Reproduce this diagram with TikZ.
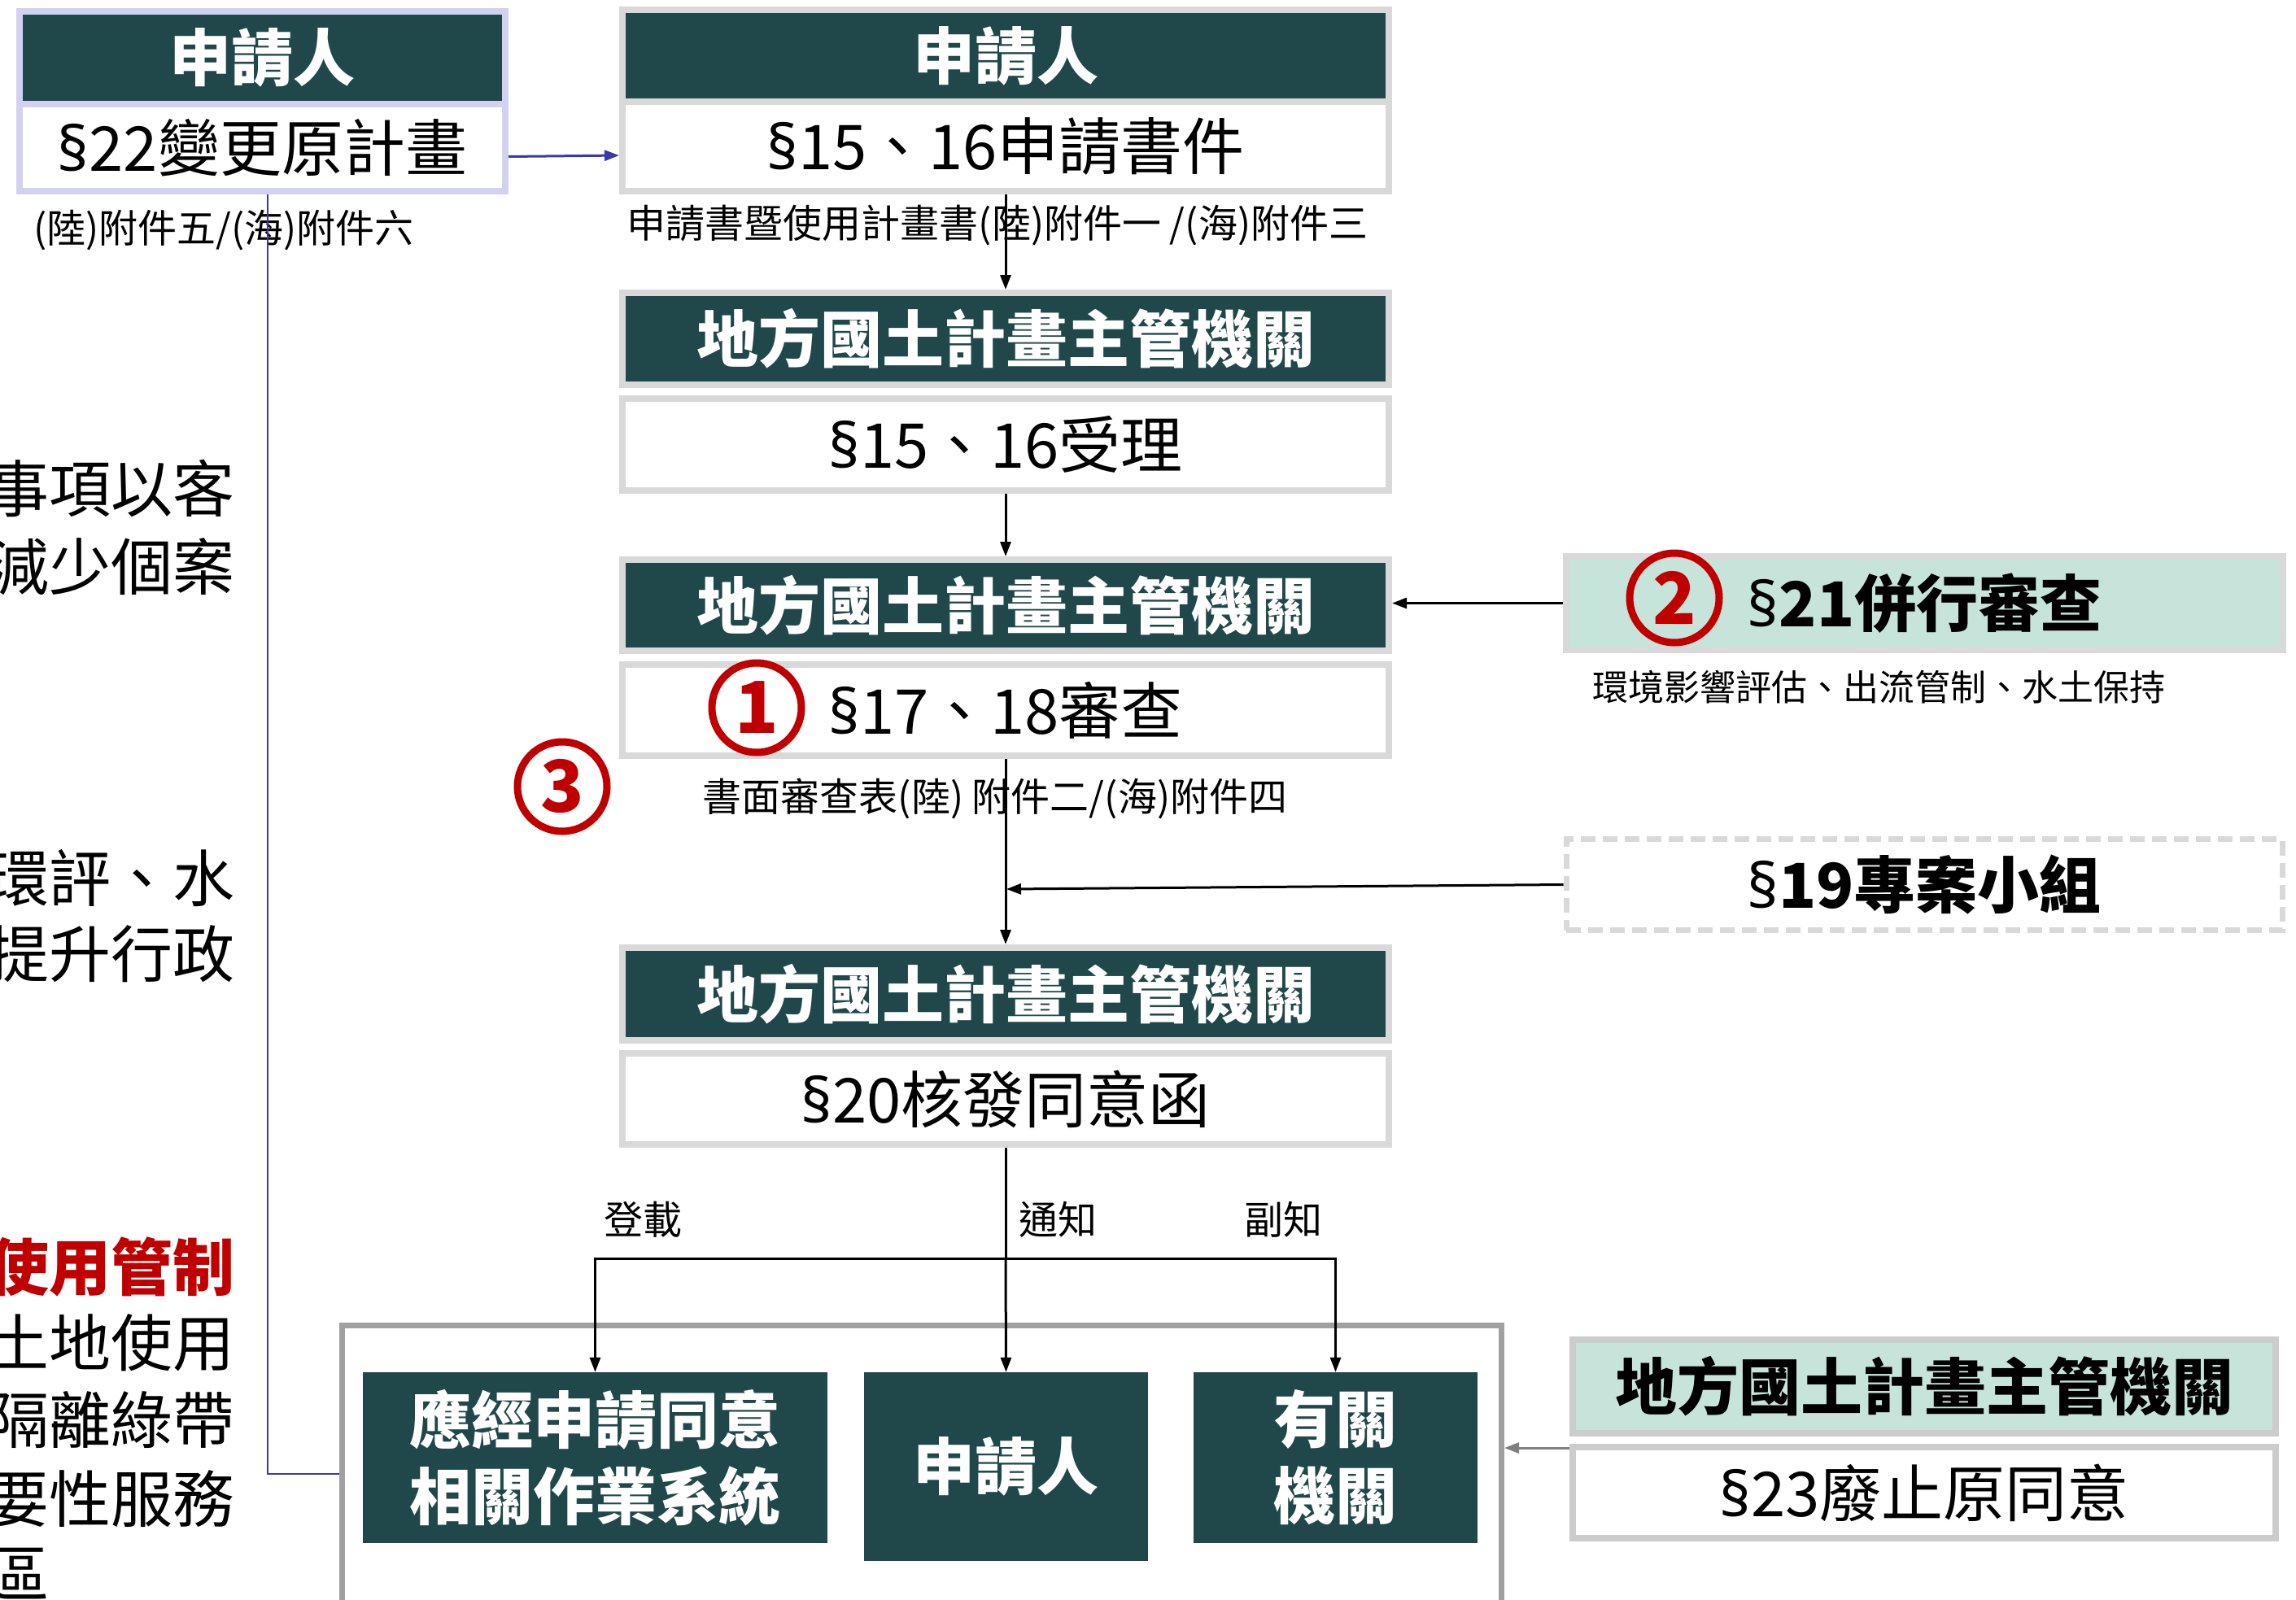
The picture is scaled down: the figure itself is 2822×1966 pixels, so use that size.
\documentclass[tikz,border=0pt]{standalone}
\usepackage{fontspec}
\setmainfont{Noto Sans CJK TC}
\newfontfamily\latf{Noto Sans}
\usetikzlibrary{arrows.meta}
\definecolor{hdrteal}{HTML}{20484A}
\definecolor{boxgray}{HTML}{D9D9D9}
\definecolor{mint}{HTML}{C6E4DA}
\definecolor{lav}{HTML}{D2D2F0}
\definecolor{navyline}{HTML}{3A3AA6}
\definecolor{outgray}{HTML}{A0A0A0}
\definecolor{numred}{HTML}{C00000}
\definecolor{graybd}{HTML}{CCCCCC}
\definecolor{arrowgray}{HTML}{808080}
\newcommand\fB{\fontsize{76}{94}\selectfont}
\newcommand\fS{\fontsize{48}{56}\selectfont}
\newcommand\fL{\fontsize{48}{58}\selectfont}
\newcommand\fN{\fontsize{88}{100}\selectfont\bfseries}
\newcommand\sect{{\latf §}}
\tikzset{
  hdr/.style={draw=boxgray, line width=8pt, fill=hdrteal, text=white, inner sep=0pt, font=\fB\bfseries},
  wbox/.style={draw=boxgray, line width=8pt, fill=white, inner sep=0pt, font=\fB},
  mintbox/.style={draw=boxgray, line width=8pt, fill=mint, inner sep=0pt, font=\fB\bfseries},
  dashbox/.style={draw=boxgray, line width=7pt, dash pattern=on 18pt off 9pt, fill=white, inner sep=0pt, font=\fB\bfseries},
  darkbox/.style={fill=hdrteal, text=white, inner sep=0pt, font=\fB\bfseries, align=center},
  conn/.style={line width=3pt, -{Triangle[length=18pt,width=13pt]}},
  circnum/.style={circle, draw=numred, line width=9pt, minimum size=110pt, inner sep=0pt, text=numred, font=\fN},
  sublbl/.style={font=\fS, inner sep=0pt},
  brlbl/.style={font=\fL, inner sep=0pt},
  lefttxt/.style={font=\fB, inner sep=0pt, anchor=west}
}
\begin{document}
\begin{tikzpicture}[x=1pt, y=-1pt]
\useasboundingbox (0,0) rectangle (2822,1966);
\fill[white] (0,0) rectangle (2822,1966);
\clip (0,0) rectangle (2822,1966);

% left cut-off text
\node[lefttxt] (t1) at (-16,600) {事項以客};
\node[lefttxt] (t2) at (-16,697) {減少個案};
\node[lefttxt] (t3) at (-16,1079) {環評、水};
\node[lefttxt] (t4) at (-16,1173) {提升行政};
\node[lefttxt, text=numred, font=\fB\bfseries] (t5) at (-16,1557) {使用管制};
\node[lefttxt] (t6) at (-16,1651) {土地使用};
\node[lefttxt] (t7) at (-16,1746) {隔離綠帶};
\node[lefttxt] (t8) at (-16,1843) {要性服務};
\node[lefttxt] (t9) at (-16,1935) {區};

% left box
\node[hdr, draw=lav, minimum width=597pt, minimum height=114pt] (lhdr) at (322.5,71) {申請人};
\node[wbox, draw=lav, minimum width=597pt, minimum height=107pt] (lwht) at (322.5,181.5) {\sect22變更原計畫};
\node[sublbl, anchor=west] (s0) at (41,283) {(陸)附件五/(海)附件六};

% middle column
\node[hdr, minimum width=942pt, minimum height=113pt] (h1) at (1236,68.5) {申請人};
\node[wbox, minimum width=942pt, minimum height=110pt] (w1) at (1236,180) {\sect15、16申請書件};
\node[sublbl] (s1) at (1226,277) {申請書暨使用計畫書(陸)附件一 /(海)附件三};

\node[hdr, minimum width=942pt, minimum height=113pt] (h2) at (1236,416.5) {地方國土計畫主管機關};
\node[wbox, minimum width=942pt, minimum height=113pt] (w2) at (1236,546.5) {\sect15、16受理};

\node[hdr, minimum width=942pt, minimum height=112pt] (h3) at (1236,744) {地方國土計畫主管機關};
\node[wbox, minimum width=942pt, minimum height=112pt] (w3) at (1236,873) {\sect17、18審查};
\node[sublbl] (s3) at (1223,982) {書面審查表(陸) 附件二/(海)附件四};

\node[hdr, minimum width=942pt, minimum height=114pt] (h4) at (1236,1222) {地方國土計畫主管機關};
\node[wbox, minimum width=942pt, minimum height=112pt] (w4) at (1236,1351) {\sect20核發同意函};

% right column
\node[mintbox, minimum width=881pt, minimum height=115pt] (r21) at (2365.5,741.5) {{\latf\bfseries §}21併行審查};
\node[sublbl, font=\fontsize{44}{52}\selectfont] (s21) at (2309,845) {環境影響評估、出流管制、水土保持};
\node[dashbox, minimum width=880pt, minimum height=112pt] (r19) at (2365,1087.5) {{\latf\bfseries §}19專案小組};
\node[mintbox, draw=graybd, minimum width=864pt, minimum height=115pt] (r23h) at (2365,1704.5) {地方國土計畫主管機關};
\node[wbox, draw=graybd, minimum width=864pt, minimum height=112pt] (r23w) at (2365,1835) {\sect23廢止原同意};

% circled numbers
\node[circnum] (c1) at (930,870) {1};
\node[circnum] (c2) at (2058,735) {2};
\node[circnum] (c3) at (691,967) {3};

% bottom container and boxes
\node[draw=outgray, line width=7pt, minimum width=1425pt, minimum height=420.5pt, inner sep=0pt] (outer) at (1133,1839.75) {};
\node[darkbox, minimum width=571pt, minimum height=210pt] (A) at (731.5,1792) {應經申請同意\\相關作業系統};
\node[darkbox, minimum width=349pt, minimum height=232pt] (B) at (1236.5,1803) {申請人};
\node[darkbox, minimum width=349pt, minimum height=210pt] (C) at (1641.5,1792) {有關\\機關};

\node[brlbl] (l1) at (790,1499) {登載};
\node[brlbl] (l2) at (1300,1499) {通知};
\node[brlbl] (l3) at (1577,1499) {副知};

% connectors
\draw[conn, draw=navyline] ([yshift=-11pt]lwht.east) -- ([yshift=-11pt]w1.west);
\coordinate (bt) at (329,1812);
\draw[draw=navyline, line width=2.5pt] (lwht.south -| bt) -- (bt) -- (outer.west |- bt);

\draw[conn] (w1.south) -- (h2.north);
\draw[conn] (w2.south) -- (h3.north);
\draw[conn] (w3.south) -- (h4.north);
\draw[conn] (r21.west) -- (h3.east |- r21.west);
\coordinate (j19) at (1237,1093);
\draw[conn] (r19.west) -- (j19);

\coordinate (br) at (1236,1547);
\draw[line width=3pt] (w4.south) -- (br);
\draw[conn] (br) -| (A.north);
\draw[conn] (br) -| (C.north);
\draw[conn] (br) -- (B.north);

\coordinate (a23) at (1929,1780);
\draw[conn, draw=arrowgray] (a23) -- (outer.east |- a23);
\end{tikzpicture}
\end{document}
